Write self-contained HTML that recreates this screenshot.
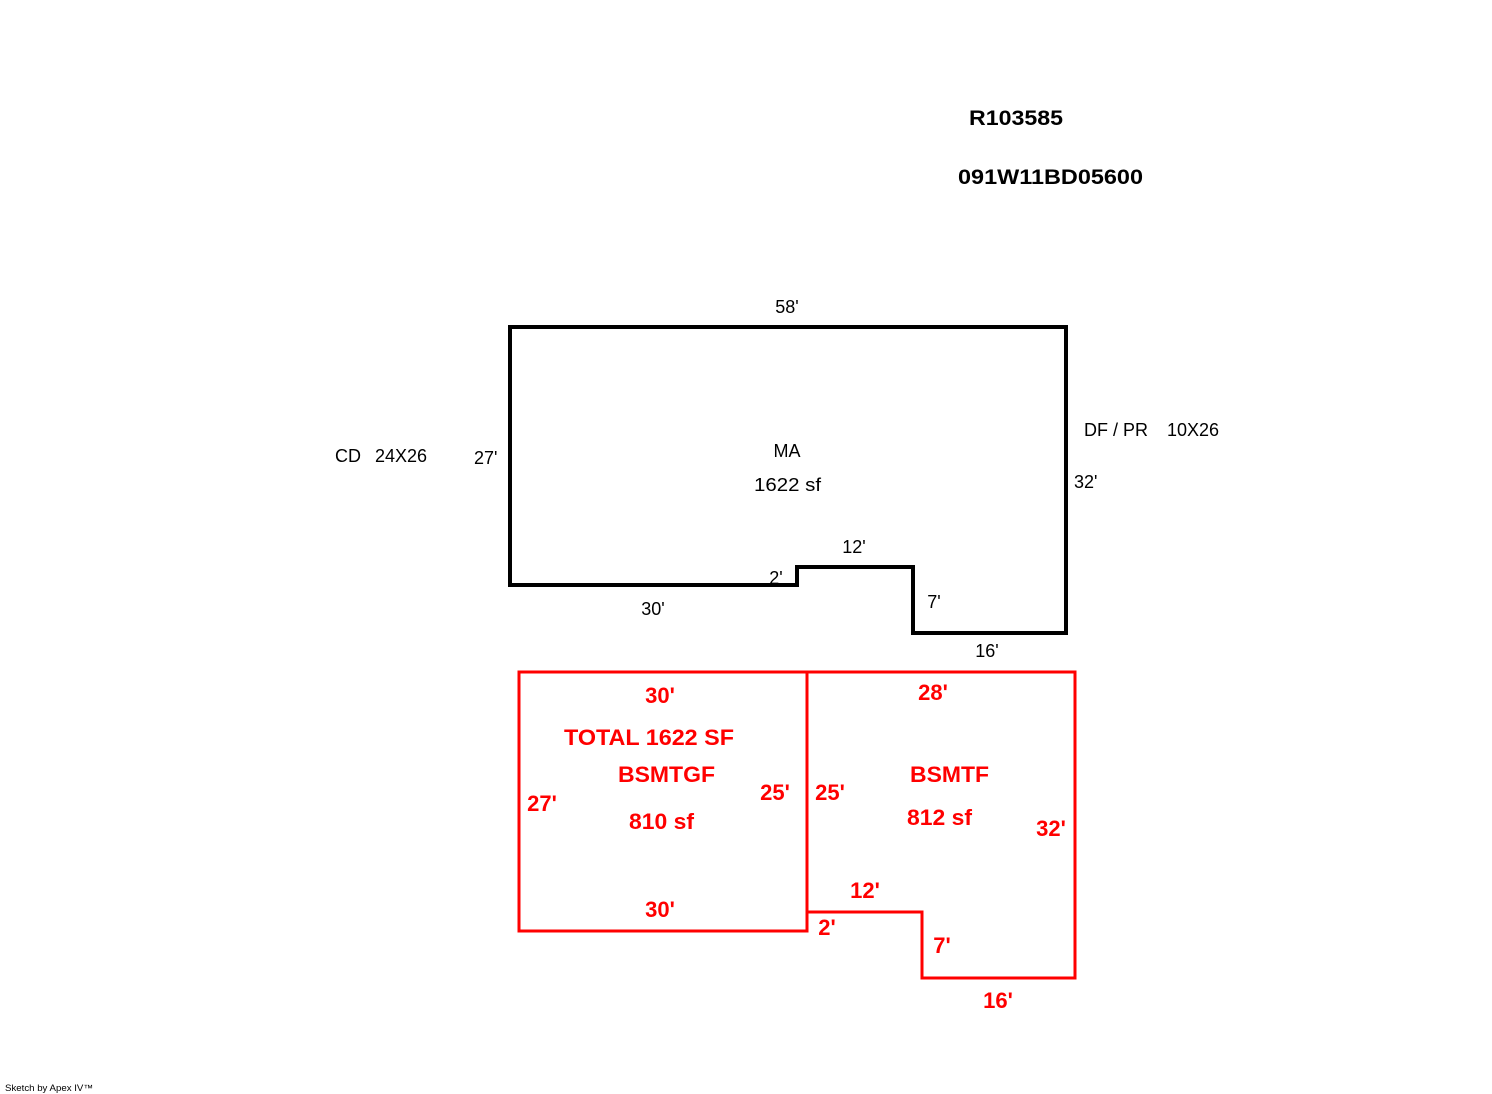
<!DOCTYPE html>
<html><head><style>body{margin:0;background:#fff}svg{display:block}</style></head><body>
<svg width="1492" height="1094" xmlns="http://www.w3.org/2000/svg" font-family="Liberation Sans, Arial, sans-serif">
<rect width="1492" height="1094" fill="#fff"/>
<polygon points="510,327 1066,327 1066,633 913,633 913,567 797,567 797,585 510,585" fill="none" stroke="#000" stroke-width="4"/>
<rect x="519" y="672" width="288" height="259" fill="none" stroke="#f00" stroke-width="3"/>
<polygon points="807,672 1075,672 1075,978 922,978 922,912 807,912" fill="none" stroke="#f00" stroke-width="3"/>
<g font-size="21" font-weight="bold" fill="#000">
<text x="969" y="125" textLength="94" lengthAdjust="spacingAndGlyphs">R103585</text>
<text x="958" y="184" textLength="185" lengthAdjust="spacingAndGlyphs">091W11BD05600</text>
</g>
<g font-size="18" fill="#000">
<text x="787" y="313" text-anchor="middle">58'</text>
<text x="335" y="462">CD</text>
<text x="375" y="462">24X26</text>
<text x="474" y="464">27'</text>
<text x="1084" y="436">DF / PR</text>
<text x="1167" y="436">10X26</text>
<text x="1074" y="488">32'</text>
<text x="787" y="457" text-anchor="middle">MA</text>
<text x="754" y="491" textLength="67" lengthAdjust="spacingAndGlyphs">1622 sf</text>
<text x="854" y="553" text-anchor="middle">12'</text>
<text x="776" y="584" text-anchor="middle">2'</text>
<text x="653" y="615" text-anchor="middle">30'</text>
<text x="934" y="608" text-anchor="middle">7'</text>
<text x="987" y="657" text-anchor="middle">16'</text>
</g>
<g font-size="22" font-weight="bold" fill="#f00">
<text x="660" y="703" text-anchor="middle">30'</text>
<text x="564" y="745" textLength="170" lengthAdjust="spacingAndGlyphs">TOTAL 1622 SF</text>
<text x="618" y="782" textLength="97" lengthAdjust="spacingAndGlyphs">BSMTGF</text>
<text x="629" y="829" textLength="65" lengthAdjust="spacingAndGlyphs">810 sf</text>
<text x="542" y="811" text-anchor="middle">27'</text>
<text x="775" y="800" text-anchor="middle">25'</text>
<text x="660" y="917" text-anchor="middle">30'</text>
<text x="933" y="700" text-anchor="middle">28'</text>
<text x="830" y="800" text-anchor="middle">25'</text>
<text x="910" y="782" textLength="79" lengthAdjust="spacingAndGlyphs">BSMTF</text>
<text x="907" y="825" textLength="65" lengthAdjust="spacingAndGlyphs">812 sf</text>
<text x="1051" y="836" text-anchor="middle">32'</text>
<text x="865" y="898" text-anchor="middle">12'</text>
<text x="827" y="935" text-anchor="middle">2'</text>
<text x="942" y="953" text-anchor="middle">7'</text>
<text x="998" y="1008" text-anchor="middle">16'</text>
</g>
<text x="5" y="1091" font-size="9" fill="#000" textLength="88" lengthAdjust="spacingAndGlyphs">Sketch by Apex IV™</text>
</svg>
</body></html>
